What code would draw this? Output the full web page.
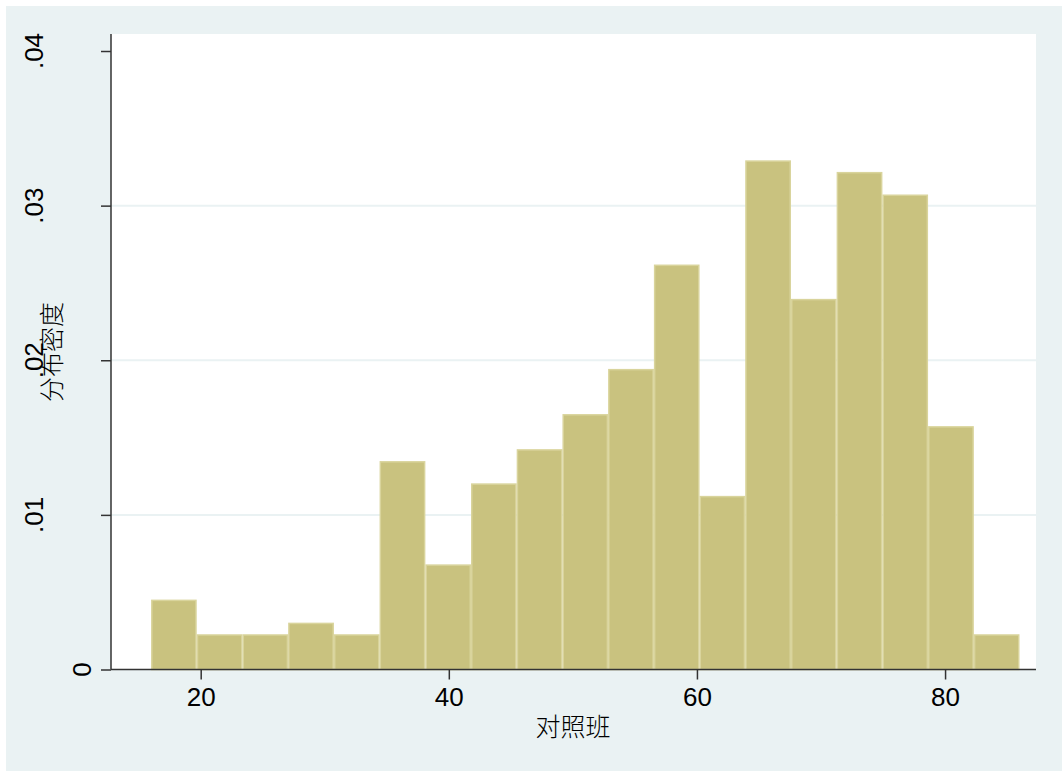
<!DOCTYPE html>
<html>
<head>
<meta charset="utf-8">
<script src="https://cdn.jsdelivr.net/npm/d3@7"></script>
<style>
  html, body { margin: 0; padding: 0; background: #fff; overflow: hidden; }
  svg { display: block; }
</style>
</head>
<body>
<script>
const width = 1062;
const height = 771;

// bin edges (19 bins) and density of each bin
const binEdges = [
  16, 19.68, 23.37, 27.05, 30.74, 34.42, 38.11, 41.79, 45.47, 49.16,
  52.84, 56.53, 60.21, 63.89, 67.58, 71.26, 74.95, 78.63, 82.32, 86,
];
const densities = [
  0.00452, 0.00228, 0.00228, 0.00303, 0.00228, 0.01348, 0.0068, 0.01204,
  0.01425, 0.01652, 0.01944, 0.02619, 0.01123, 0.03293, 0.02397, 0.03218,
  0.03072, 0.01574, 0.00228,
];
const xTicks = [20, 40, 60, 80];
const yTicks = [0, 0.01, 0.02, 0.03, 0.04];
const yTickLabels = ["0", ".01", ".02", ".03", ".04"];
const xTitle = "对照班";
const yTitle = "分布密度";

const plot = { left: 111, right: 1036, top: 34, bottom: 669.5 };

const svg = d3
  .select("body")
  .append("svg")
  .attr("width", width)
  .attr("height", height);

svg
  .append("rect")
  .attr("x", 6)
  .attr("y", 6)
  .attr("width", width - 6)
  .attr("height", height - 6)
  .attr("fill", "#eaf2f3");

svg
  .append("rect")
  .attr("x", plot.left)
  .attr("y", plot.top)
  .attr("width", plot.right - plot.left)
  .attr("height", plot.bottom - plot.top)
  .attr("fill", "#ffffff");

const xScale = d3
  .scaleLinear()
  .domain([12.77, 87.33])
  .range([plot.left, plot.right]);

const yScale = d3
  .scaleLinear()
  .domain([0, 0.0411])
  .range([plot.bottom, plot.top]);

// grid lines (not at the ends)
svg
  .append("g")
  .selectAll("line")
  .data(yTicks.filter((d) => d > 0 && d < 0.04))
  .enter()
  .append("line")
  .attr("x1", plot.left)
  .attr("x2", plot.right)
  .attr("y1", (d) => yScale(d))
  .attr("y2", (d) => yScale(d))
  .attr("stroke", "#eaf2f3")
  .attr("stroke-width", 2);

const bins = densities.map((d, i) => ({
  x0: binEdges[i],
  x1: binEdges[i + 1],
  density: d,
}));

svg
  .append("g")
  .selectAll("rect")
  .data(bins)
  .enter()
  .append("rect")
  .attr("x", (d) => xScale(d.x0) + 0.75)
  .attr("y", (d) => yScale(d.density) + 0.75)
  .attr("width", (d) => xScale(d.x1) - xScale(d.x0) - 1.5)
  .attr("height", (d) => yScale(0) - yScale(d.density) - 0.75)
  .attr("fill", "#c9c27f")
  .attr("stroke", "#d9d49c")
  .attr("stroke-width", 1.5);

const yAxis = d3
  .axisLeft(yScale)
  .tickValues(yTicks)
  .tickSize(10)
  .tickFormat("");

svg
  .append("g")
  .attr("transform", "translate(" + plot.left + ",0)")
  .call(yAxis)
  .call((g) => g.select(".domain").attr("stroke", "#333").attr("stroke-width", 1.5).attr("d", "M0," + plot.bottom + "V" + plot.top))
  .call((g) => g.selectAll(".tick line").attr("stroke", "#333").attr("stroke-width", 1.5));

const xAxis = d3
  .axisBottom(xScale)
  .tickValues(xTicks)
  .tickSize(10)
  .tickPadding(8)
  .tickFormat(d3.format("d"));

svg
  .append("g")
  .attr("transform", "translate(0," + plot.bottom + ")")
  .call(xAxis)
  .call((g) => g.select(".domain").attr("stroke", "#333").attr("stroke-width", 1.5).attr("d", "M" + plot.left + ",0H" + plot.right))
  .call((g) => g.selectAll(".tick line").attr("stroke", "#333").attr("stroke-width", 1.5))
  .call((g) =>
    g
      .selectAll(".tick text")
      .attr("fill", "#000")
      .attr("font-family", "'Liberation Sans', Arial, sans-serif")
      .attr("font-size", 26)
  );

// rotated y tick labels, "0" sits closer to the axis like the original
svg
  .append("g")
  .selectAll("text")
  .data(yTicks)
  .enter()
  .append("text")
  .attr("transform", (d, i) => {
    const bx = d === 0 ? 91 : 43;
    return "translate(" + bx + "," + yScale(d) + ") rotate(-90)";
  })
  .attr("text-anchor", "middle")
  .attr("font-family", "'Liberation Sans', Arial, sans-serif")
  .attr("font-size", 26)
  .attr("fill", "#000")
  .text((d, i) => yTickLabels[i]);

svg
  .append("text")
  .attr("x", 573)
  .attr("y", 736)
  .attr("text-anchor", "middle")
  .attr("font-family", "'Noto Sans CJK SC', sans-serif")
  .attr("font-weight", 300)
  .attr("font-size", 25)
  .attr("fill", "#000")
  .text(xTitle);

svg
  .append("text")
  .attr("transform", "translate(61,352) rotate(-90)")
  .attr("text-anchor", "middle")
  .attr("font-family", "'Noto Sans CJK SC', sans-serif")
  .attr("font-weight", 300)
  .attr("font-size", 25)
  .attr("fill", "#000")
  .text(yTitle);
</script>
</body>
</html>
